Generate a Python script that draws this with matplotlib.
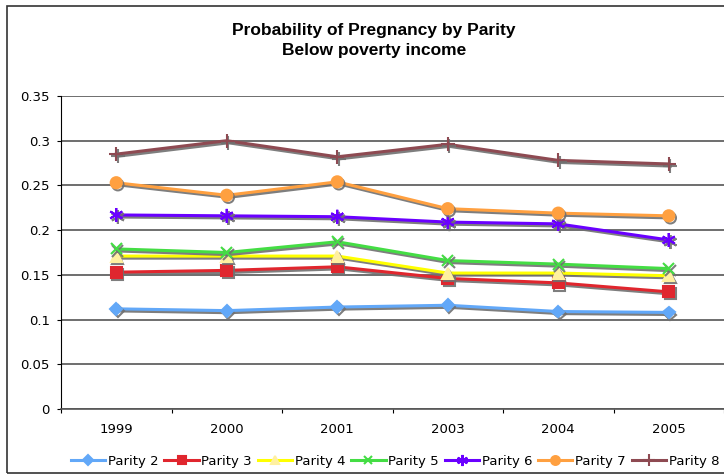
import matplotlib.pyplot as plt
import matplotlib.patheffects as pe
from matplotlib.patches import Rectangle

years = ['1999', '2000', '2001', '2003', '2004', '2005']

parity2 = [0.112, 0.110, 0.114, 0.116, 0.109, 0.108]
parity3 = [0.153, 0.155, 0.159, 0.146, 0.141, 0.131]
parity4 = [0.171, 0.171, 0.171, 0.152, 0.152, 0.149]
parity5 = [0.179, 0.175, 0.187, 0.166, 0.162, 0.157]
parity6 = [0.217, 0.216, 0.215, 0.209, 0.207, 0.189]
parity7 = [0.253, 0.239, 0.254, 0.224, 0.219, 0.216]
parity8 = [0.285, 0.300, 0.282, 0.296, 0.278, 0.274]

series = [
    ('Parity 2', parity2, '#62a8f8', 'D', '#62a8f8', 6),
    ('Parity 3', parity3, '#e0262e', 's', '#e0262e', 8),
    ('Parity 4', parity4, '#ffff00', '^', '#fff0a0', 8),
    ('Parity 5', parity5, '#44dd44', 'x', '#44dd44', 8),
    ('Parity 6', parity6, '#6a00ff', (6, 2, 0), '#6a00ff', 10),
    ('Parity 7', parity7, '#ffa040', 'o', '#ffa040', 8),
    ('Parity 8', parity8, '#8e4a52', '+', '#8e4a52', 10),
]

fig = plt.figure(figsize=(7.24, 4.74), dpi=100)
plt.rcParams['font.family'] = ['DejaVu Sans']

# outer chart border
fig.patches.append(Rectangle((7 / 724, 1 / 474), 1.0, 467 / 474,
                             transform=fig.transFigure, fill=False,
                             edgecolor='#333333', lw=1.2))

ax = fig.add_axes([61 / 724, 1 - 409 / 474, 1 - 61 / 724, (409 - 96) / 474])

x = list(range(len(years)))
shadow = [pe.SimpleLineShadow(offset=(1.2, -1.5), shadow_color='#707070', alpha=0.9),
          pe.Normal()]
for name, vals, col, mk, mcol, ms in series:
    ax.plot(x, vals, color=col, lw=2.2, marker=mk, markersize=ms,
            markerfacecolor=mcol, markeredgecolor=mcol, markeredgewidth=1.5,
            label=name, path_effects=shadow, zorder=3)

ax.set_xlim(-0.5, len(years) - 0.5)
ax.set_ylim(0, 0.35)
ax.set_yticks([0, 0.05, 0.1, 0.15, 0.2, 0.25, 0.3, 0.35])
ax.set_yticklabels(['0', '0.05', '0.1', '0.15', '0.2', '0.25', '0.3', '0.35'])
ax.yaxis.grid(True, color='#555555', lw=1.2)
ax.set_axisbelow(True)

# category boundaries get the tick marks, labels sit between them
ax.set_xticks([i + 0.5 for i in range(-1, len(years))])
ax.set_xticklabels([])
ax.set_xticks(x, minor=True)
ax.set_xticklabels(years, minor=True)
ax.tick_params(axis='x', which='minor', length=0, pad=10, labelsize=9.5)
ax.tick_params(axis='x', which='major', length=3, direction='out', color='black')
ax.tick_params(axis='y', length=3, labelsize=9.5, pad=5)

for s in ['top', 'right']:
    ax.spines[s].set_visible(False)
ax.spines['left'].set_color('black')
ax.spines['bottom'].set_color('#555555')
ax.spines['bottom'].set_linewidth(1.2)

fig.text(374 / 724, 1 - 31 / 474, 'Probability of Pregnancy by Parity',
         ha='center', va='center', fontsize=12.5, fontweight='bold',
         family='Liberation Sans')
fig.text(374 / 724, 1 - 51 / 474, 'Below poverty income',
         ha='center', va='center', fontsize=12.5, fontweight='bold',
         family='Liberation Sans')

leg = fig.legend(loc='center', bbox_to_anchor=(395 / 724, 1 - 461 / 474),
                 ncol=7, frameon=False, fontsize=9.5, handlelength=2.6,
                 columnspacing=0.45, handletextpad=0.2, markerscale=0.8)
for h in leg.legend_handles:
    h.set_path_effects([])

fig.savefig('out.png', dpi=100)
